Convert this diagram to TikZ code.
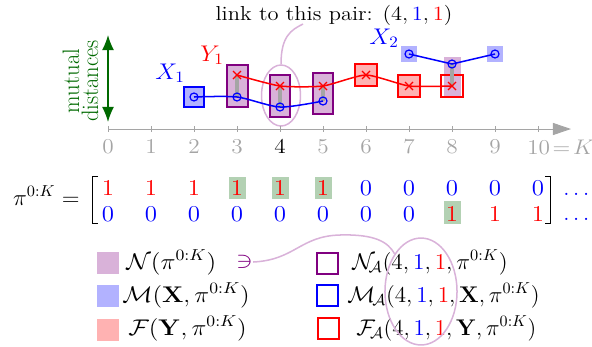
\RequirePackage{fix-cm}
\documentclass[tikz,border=0pt]{standalone}
\usetikzlibrary{arrows.meta,shapes.geometric}
\definecolor{mypurple}{RGB}{128,0,128}
\definecolor{hlgreen}{RGB}{179,209,179}
\definecolor{dkgreen}{RGB}{0,105,0}
\definecolor{axgray}{RGB}{165,165,165}
\begin{document}
\begin{tikzpicture}[x=0.662pt,y=-0.662pt,
  font=\fontsize{15}{18}\selectfont,
  pbox/.style={draw=mypurple,line width=1.3pt,fill=mypurple!30},
  bbox/.style={draw=blue,line width=1.3pt,fill=blue!30},
  rbox/.style={draw=red,line width=1.3pt,fill=red!30},
  rborder/.style={draw=red,line width=1.3pt},
  xline/.style={blue,line width=1pt},
  yline/.style={red,line width=1pt},
  linkline/.style={draw=mypurple!30,line width=1pt},
  distbar/.style={axgray,line width=2pt},
  entry/.style={inner sep=0pt,anchor=base,xscale=1.1},
  hl/.style={fill=hlgreen,inner sep=0pt,minimum width=11.3pt,minimum height=14.6pt},
  sq/.style={inner sep=0pt,minimum size=14.6pt},
  osq/.style={inner sep=0pt,minimum size=13.9pt,line width=1.3pt},
  lab/.style={inner sep=0pt,anchor=base west},
  ticklab/.style={inner sep=0pt,xscale=1.1,font=\fontsize{14}{17}\selectfont}
]
\useasboundingbox (0,0) rectangle (592,346);

% title and link
\node[inner sep=0pt,anchor=base,xscale=1.11,font=\fontsize{13.4}{16}\selectfont] (title) at (334,20) {link to this pair: $(4,{\color{blue}1},{\color{red}1})$};
\node[ellipse,draw=mypurple!30,line width=1pt,inner sep=0pt,minimum width=25.8pt,minimum height=40.4pt] (ell) at (281,95.5) {};
\coordinate (lk) at (303,24);
\draw[linkline] (ell.north) .. controls +(0,-28) and +(-12,6) .. (lk);

% mutual distances
\node[rotate=90,yscale=1.05,align=center,text=dkgreen,inner sep=0pt,font=\fontsize{15}{12}\selectfont] (md) at (80.5,81) {mutual\\distances};
\coordinate (da) at (108,35);
\coordinate (db) at (108,122);
\draw[dkgreen,line width=1pt,{Latex[length=10pt,width=8pt]}-{Latex[length=10pt,width=8pt]}] (da) -- (db);

% axis
\coordinate (o) at (108,129);
\coordinate (axend) at (571,129);
\draw[axgray,line width=0.6pt,-{Triangle[length=12pt,width=8pt]}] (o) -- (axend);
\foreach \i in {0,...,10}{
  \draw[axgray,line width=0.6pt] (108+43*\i,126) -- (108+43*\i,132);
}
\foreach \i in {0,1,2,3,5,6,7,8,9}{
  \node[ticklab,text=axgray] (t\i) at (108+43*\i,147) {$\i$};
}
\node[ticklab] (t4) at (280,147) {$4$};
\node[ticklab,text=axgray,anchor=west] (t10) at (527,147) {$10\!=\!K$};

% data points
\coordinate (x12) at (194,97);
\coordinate (x13) at (237,97);
\coordinate (x14) at (280,107);
\coordinate (x15) at (323,101);
\coordinate (y13) at (237,75);
\coordinate (y14) at (280,86);
\coordinate (y15) at (323,86);
\coordinate (y16) at (366,75);
\coordinate (y17) at (409,86);
\coordinate (y18) at (452,86);
\coordinate (x27) at (409,54);
\coordinate (x28) at (452,64);
\coordinate (x29) at (495,54);

% boxes
\draw[bbox] (184,87) rectangle (204,107);
\draw[pbox] (227,65) rectangle (248,107);
\draw[pbox] (270,75) rectangle (290,117);
\draw[pbox] (313,73) rectangle (333,114);
\draw[rbox] (355,64) rectangle (377,86);
\draw[rbox] (398,75) rectangle (420,97);
\fill[blue!30] (401,46) rectangle (417,62);
\fill[mypurple!30] (444,57) rectangle (461,97);
\draw[rborder] (441,75) rectangle (463,97);
\fill[blue!30] (487,46) rectangle (503,62);

% distance bars
\draw[distbar] (y13) -- (x13);
\draw[distbar] (y14) -- (x14);
\draw[distbar] (y15) -- (x15);
\draw[distbar] (x28) -- (y18);

% series
\draw[xline] plot[smooth,tension=0.45] coordinates {(x12) (x13) (x14) (x15)};
\draw[yline] plot[smooth,tension=0.35] coordinates {(y13) (y14) (y15) (y16) (y17) (y18)};
\draw[xline] (x27) -- (x28) -- (x29);
\foreach \p in {x12,x13,x14,x15,x27,x28,x29}{
  \draw[blue,line width=0.8pt] (\p) circle [radius=4];
}
\foreach \p in {y13,y14,y15,y16,y17,y18}{
  \draw[red,line width=0.8pt] (\p) +(-4,-4) -- +(4,4) +(-4,4) -- +(4,-4);
}
\node[text=blue,inner sep=0pt,xscale=1.08] (lx1) at (170,73.5) {$X_1$};
\node[text=red,inner sep=0pt,xscale=1.08] (ly1) at (212,55) {$Y_1$};
\node[text=blue,inner sep=0pt,xscale=1.08] (lx2) at (384,38.5) {$X_2$};

% matrix
\node[inner sep=0pt,anchor=base east,xscale=1.03] (pi) at (80,205) {$\pi^{0:K}=$};
\draw[line width=0.6pt] (98,176) -- (92,176) -- (92,223) -- (98,223);
\draw[line width=0.6pt] (545,176) -- (550,176) -- (550,223) -- (545,223);
\node[hl] (h13) at (237.5,188) {};
\node[hl] (h14) at (280.5,188) {};
\node[hl] (h15) at (323.5,188) {};
\node[hl] (h28) at (452.5,212.5) {};
\foreach \v [count=\i from 0] in {1,1,1,1,1,1,0,0,0,0,0}{
  \node[entry] (a\i) at (108+43*\i,195) {\ifnum\v=1 \color{red}\else\color{blue}\fi$\v$};
}
\foreach \v [count=\i from 0] in {0,0,0,0,0,0,0,0,1,1,1}{
  \node[entry] (b\i) at (108+43*\i,221) {\ifnum\v=1 \color{red}\else\color{blue}\fi$\v$};
}
\node[lab,text=blue] (d1) at (563,195) {$\ldots\ldots$};
\node[lab,text=blue] (d2) at (563,220) {$\ldots\ldots$};

% legend left
\node[sq,fill=mypurple!30] (lN) at (108,263) {};
\node[sq,fill=blue!30] (lM) at (108,296) {};
\node[sq,fill=red!30] (lF) at (108,330) {};
\node[lab,xscale=1.12] (tN) at (126,269) {$\mathcal{N}(\pi^{0:K})$};
\node[lab,xscale=1.11] (tM) at (122,302) {$\mathcal{M}(\mathbf{X},\pi^{0:K})$};
\node[lab,xscale=1.11] (tF) at (128,335) {$\mathcal{F}(\mathbf{Y},\pi^{0:K})$};
\node[text=mypurple,inner sep=0pt,xscale=1.1] (ni) at (244.5,262) {$\ni$};

% legend right
\node[osq,draw=mypurple] (rN) at (327.5,263.5) {};
\node[osq,draw=blue] (rM) at (327.5,295.5) {};
\node[osq,draw=red] (rF) at (328.5,328.5) {};
\node[lab,xscale=1.03] (sN) at (352,269) {$\mathcal{N}_{\!\mathcal{A}}(4,{\color{blue}1},{\color{red}1},\pi^{0:K})$};
\node[lab,xscale=1.02] (sM) at (347,302) {$\mathcal{M}_{\!\mathcal{A}}(4,{\color{blue}1},{\color{red}1},\mathbf{X},\pi^{0:K})$};
\node[lab,xscale=1.01] (sF) at (356,335) {$\mathcal{F}_{\!\mathcal{A}}(4,{\color{blue}1},{\color{red}1},\mathbf{Y},\pi^{0:K})$};
\node[ellipse,draw=mypurple!30,line width=1pt,inner sep=0pt,minimum width=47.7pt,minimum height=70.8pt] (lell) at (421,291.5) {};
\coordinate (c1) at (340,235);
\draw[linkline] (ni.east) .. controls (295,260) and (300,236) .. (c1) .. controls (375,234) and (388,242) .. (lell.125);
\end{tikzpicture}
\end{document}
